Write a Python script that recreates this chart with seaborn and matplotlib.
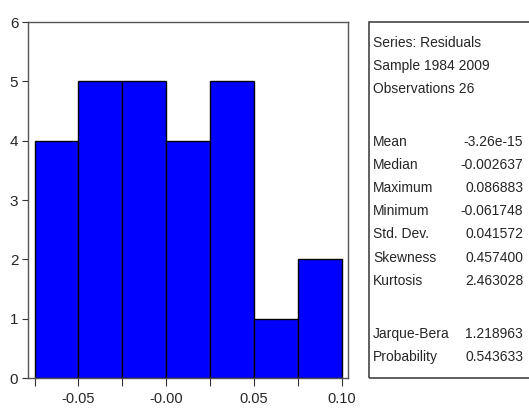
import matplotlib
matplotlib.use("Agg")
import matplotlib.pyplot as plt
import seaborn as sns
import numpy as np
import pandas as pd
from matplotlib.patches import Rectangle

# Data
bin_edges = [-0.075, -0.05, -0.025, 0.0, 0.025, 0.05, 0.075, 0.10]
bin_centers = [-0.0625, -0.0375, -0.0125, 0.0125, 0.0375, 0.0625, 0.0875]
counts = [4, 5, 5, 4, 5, 1, 2]
xtick_vals = [-0.05, 0.0, 0.05, 0.10]
xtick_labels = ["-0.05", "-0.00", "0.05", "0.10"]
header_lines = ["Series: Residuals", "Sample 1984 2009", "Observations 26"]
stat_names = ["Mean", "Median", "Maximum", "Minimum", "Std. Dev.", "Skewness", "Kurtosis"]
stat_values = ["-3.26e-15", "-0.002637", "0.086883", "-0.061748", "0.041572", "0.457400", "2.463028"]
test_names = ["Jarque-Bera", "Probability"]
test_values = ["1.218963", "0.543633"]

sns.set_style("white")
plt.rcParams['font.family'] = ['Liberation Sans', 'DejaVu Sans']

W, H = 529, 412
fig = plt.figure(figsize=(W / 100, H / 100), dpi=100)
ax = fig.add_axes([28 / W, (H - 378) / H, (348 - 28) / W, (378 - 22) / H])

df = pd.DataFrame({"x": bin_centers, "w": counts})
sns.histplot(data=df, x="x", weights="w", bins=bin_edges, ax=ax,
             color="#0000FF", edgecolor="black", linewidth=1.0, alpha=1.0)

ax.set_xlim(-0.0787, 0.1034)
ax.set_ylim(0, 6)
ax.set_xlabel("")
ax.set_ylabel("")
labels = []
for e in bin_edges:
    lab = ""
    for v, t in zip(xtick_vals, xtick_labels):
        if abs(e - v) < 1e-9:
            lab = t
    labels.append(lab)
ax.set_xticks(bin_edges)
ax.set_xticklabels(labels)
ax.set_yticks(range(0, 7))
ax.tick_params(axis="x", direction="out", length=6, width=0.8, color="#333333", labelsize=10.5, pad=4, bottom=True)
ax.tick_params(axis="y", direction="out", length=4, width=0.8, color="#333333", labelsize=11, pad=3, left=True)
for s in ax.spines.values():
    s.set_color("#555555")
    s.set_linewidth(1.0)
ax.grid(False)

# Stats box
x0 = 369 / W
y_top = (H - 22) / H
y_bot = (H - 378) / H
box = Rectangle((x0, y_bot), 1.0 - x0 + 0.01, y_top - y_bot, transform=fig.transFigure,
                fill=False, edgecolor="#444444", linewidth=1.2, clip_on=False)
fig.add_artist(box)

lx = 373 / W
rx = 523 / W
fs = 10
header_y = [43, 66, 89]
for t, yp in zip(header_lines, header_y):
    fig.text(lx, (H - yp) / H, t, fontsize=fs, va="center", ha="left")
stat_y = [142, 165, 188, 211, 234, 258, 281]
for n, v, yp in zip(stat_names, stat_values, stat_y):
    fig.text(lx, (H - yp) / H, n, fontsize=fs, va="center", ha="left")
    fig.text(rx, (H - yp) / H, v, fontsize=fs, va="center", ha="right")
test_y = [334, 357]
for n, v, yp in zip(test_names, test_values, test_y):
    fig.text(lx, (H - yp) / H, n, fontsize=fs, va="center", ha="left")
    fig.text(rx, (H - yp) / H, v, fontsize=fs, va="center", ha="right")

fig.savefig("out.png", dpi=100)
